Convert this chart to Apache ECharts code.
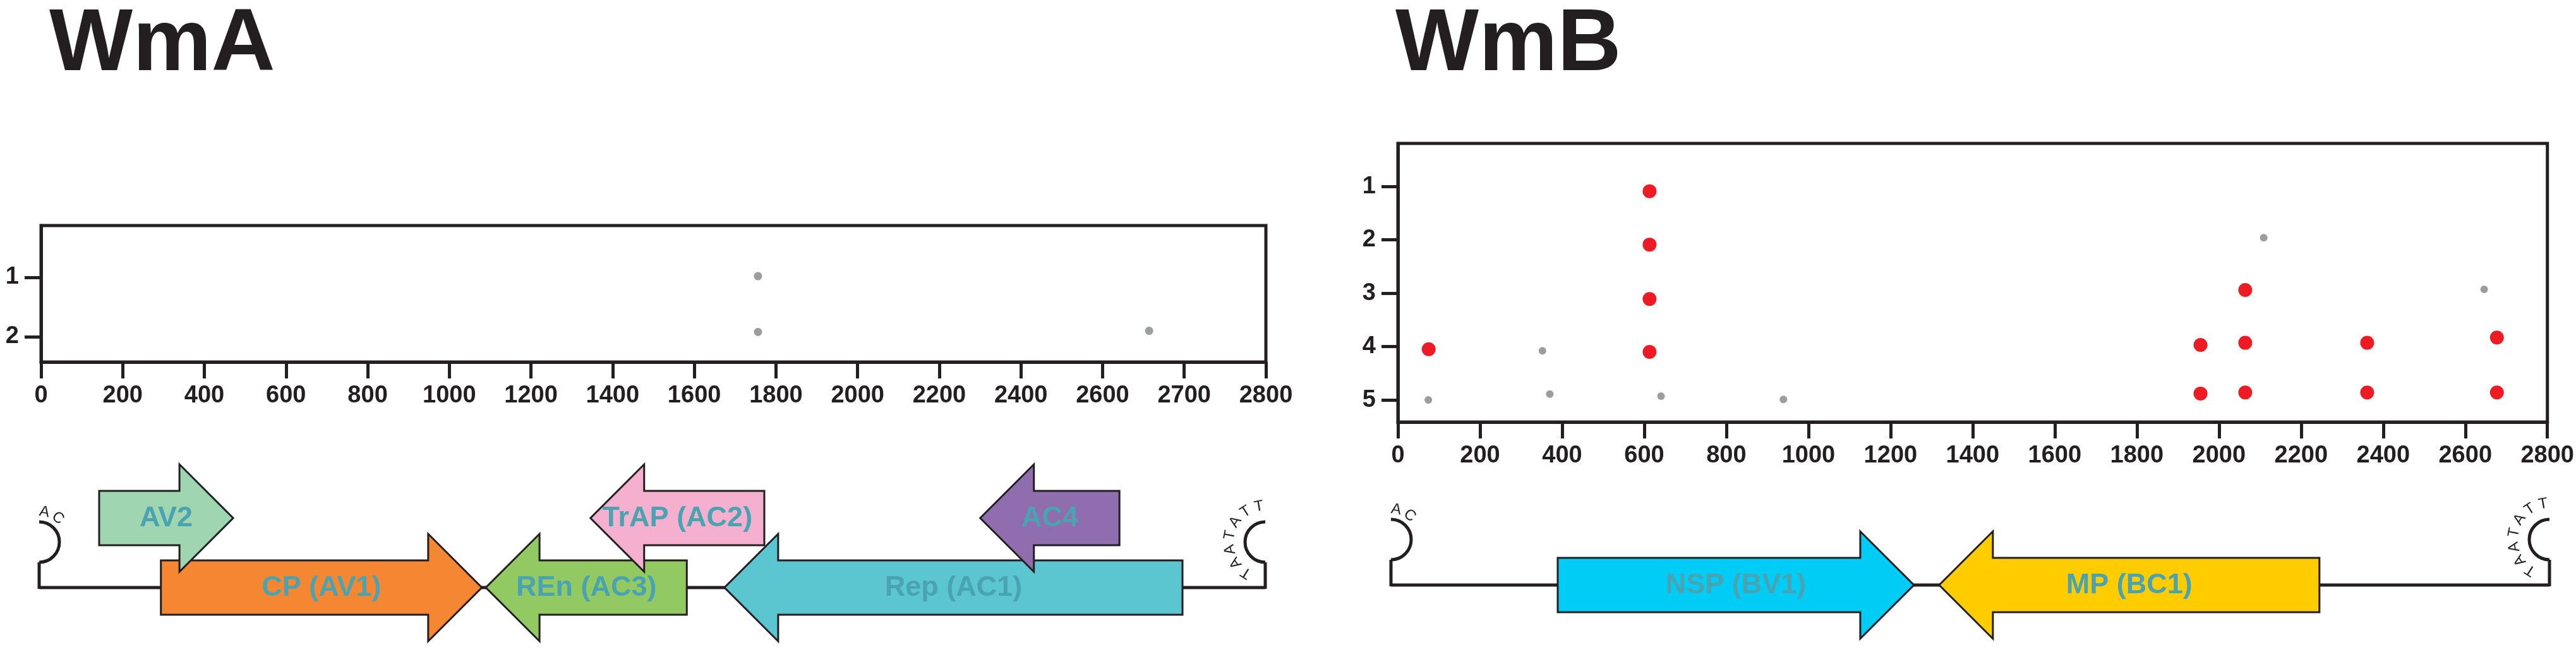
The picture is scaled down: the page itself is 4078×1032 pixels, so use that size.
<!DOCTYPE html>
<html>
<head>
<meta charset="utf-8">
<script src="https://cdn.jsdelivr.net/npm/echarts@6.0.0/dist/echarts.min.js"></script>
<style>
html, body { margin: 0; padding: 0; background: #fff; }
#main { width: 4078px; height: 1032px; }
</style>
</head>
<body>
<div id="main"></div>
<script>
// WmA dot plot (x axis ticks as printed in the figure)
var ticksA = [0, 200, 400, 600, 800, 1000, 1200, 1400, 1600, 1800, 2000, 2200, 2400, 2600, 2700, 2800];
var yTicksA = [1, 2];
var grayAx = [1756, 1756, 2657];
var grayAy = [0.98, 1.92, 1.9];

// WmB dot plot
var yTicksB = [1, 2, 3, 4, 5];
var redBx = [75, 613, 613, 613, 613, 2064, 1955, 2064, 2361, 2677, 1955, 2064, 2361, 2677];
var redBy = [4.05, 1.09, 2.09, 3.11, 4.1, 2.94, 3.97, 3.93, 3.93, 3.83, 4.88, 4.86, 4.86, 4.86];
var grayBx = [74, 352, 370, 641, 939, 2109, 2646];
var grayBy = [5.0, 4.08, 4.89, 4.93, 4.99, 1.96, 2.93];

// genome maps (nt), lane 0 = main line, lane 1 = upper row
var genomeA = [0, 2800];
var genesA = ['CP (AV1)', 'REn (AC3)', 'Rep (AC1)', 'AV2', 'TrAP (AC2)', 'AC4'];
var startA = [278, 1020, 1565, 137, 1259, 2149];
var endA = [1011, 1479, 2611, 443, 1656, 2467];
var strandA = [1, -1, -1, 1, -1, -1];
var laneA = [0, 0, 0, 1, 1, 1];

var genomeB = [0, 2800];
var genesB = ['NSP (BV1)', 'MP (BC1)'];
var startB = [403, 1325];
var endB = [1264, 2244];
var strandB = [1, -1];
var laneB = [0, 0];

var endSeq = ['AC', 'TAATATT'];

var geneColor = {
    'CP (AV1)': '#f58733',
    'REn (AC3)': '#93c963',
    'Rep (AC1)': '#5bc6d0',
    'AV2': '#9fd5b0',
    'TrAP (AC2)': '#f5b0d0',
    'AC4': '#8f6daf',
    'NSP (BV1)': '#00ccf6',
    'MP (BC1)': '#ffcc00'
};

var ink = '#231f20';
var font = 'Liberation Sans';

// position on the WmA axis (ticks are evenly spaced there)
function toIdxA(bp) {
    for (var i = 0; i < ticksA.length - 1; i++) {
        if (bp <= ticksA[i + 1]) {
            return i + (bp - ticksA[i]) / (ticksA[i + 1] - ticksA[i]);
        }
    }
    return ticksA.length - 1;
}

function plotX(grid, opts, fmt) {
    var ax = {
        type: 'value', gridIndex: grid,
        axisLine: { show: true, lineStyle: { color: ink, width: 5 } },
        axisTick: { show: true, length: 26, lineStyle: { color: ink, width: 5 } },
        axisLabel: { color: ink, fontSize: 38, fontWeight: 'bold', fontFamily: font, margin: 35, formatter: fmt },
        splitLine: { show: false }
    };
    return Object.assign(ax, opts);
}

function plotY(grid, ticks, min, max) {
    return {
        type: 'value', gridIndex: grid, inverse: true, min: min, max: max,
        axisLine: { show: true, lineStyle: { color: ink, width: 5 } },
        axisTick: { show: true, length: 26, customValues: ticks, lineStyle: { color: ink, width: 5 } },
        axisLabel: { customValues: ticks, color: ink, fontSize: 38, fontWeight: 'bold', fontFamily: font, margin: 35 },
        splitLine: { show: false }
    };
}

function geneSeries(grid, names, starts, ends, lanes, strands) {
    return {
        type: 'custom', xAxisIndex: grid, yAxisIndex: grid, z: 4,
        data: names.map(function (n, i) { return [starts[i], ends[i], lanes[i], strands[i]]; }),
        encode: { x: [0, 1], y: 2 },
        renderItem: function (params, api) {
            var s = api.coord([api.value(0), api.value(2)]);
            var e = api.coord([api.value(1), api.value(2)]);
            var y = s[1], bh = 43, hh = 85, H = 85;
            var pts;
            if (api.value(3) > 0) {
                var xh = e[0] - H;
                pts = [[s[0], y - bh], [xh, y - bh], [xh, y - hh], [e[0], y], [xh, y + hh], [xh, y + bh], [s[0], y + bh]];
            } else {
                var xh2 = s[0] + H;
                pts = [[e[0], y - bh], [xh2, y - bh], [xh2, y - hh], [s[0], y], [xh2, y + hh], [xh2, y + bh], [e[0], y + bh]];
            }
            var name = names[params.dataIndex];
            return {
                type: 'group',
                children: [
                    { type: 'polygon', shape: { points: pts },
                      style: { fill: geneColor[name], stroke: ink, lineWidth: 3, lineJoin: 'miter' } },
                    { type: 'text', x: (s[0] + e[0]) / 2, y: y + 1,
                      style: { text: name, fill: '#4aa3b0', fontSize: 45, fontWeight: 'bold', fontFamily: font,
                               align: 'center', verticalAlign: 'middle' } }
                ]
            };
        }
    };
}

function baseLine(grid, genome) {
    return {
        type: 'line', xAxisIndex: grid, yAxisIndex: grid, z: 2, symbol: 'none', silent: true,
        data: [[genome[0], 0], [genome[1], 0]],
        lineStyle: { color: ink, width: 5 }
    };
}

function endSeries(grid, genome) {
    return {
        type: 'custom', xAxisIndex: grid, yAxisIndex: grid, z: 3,
        data: genome.map(function (v) { return [v, 0]; }),
        renderItem: function (params, api) {
            var p = api.coord([api.value(0), api.value(1)]);
            var left = params.dataIndex === 0;
            var cx = p[0], cy = p[1] - 72, r = 32;
            var children = [
                { type: 'line', shape: { x1: cx, y1: p[1] + 2, x2: cx, y2: cy + r },
                  style: { stroke: ink, lineWidth: 5 } },
                { type: 'arc',
                  shape: { cx: cx, cy: cy, r: r,
                           startAngle: left ? -Math.PI / 2 : Math.PI / 2,
                           endAngle: left ? Math.PI / 2 : Math.PI * 1.5, clockwise: true },
                  style: { stroke: ink, lineWidth: 5, fill: null } }
            ];
            var seq = endSeq[params.dataIndex];
            var a0 = left ? -80 : 122, step = left ? 28 : 23, rr = left ? 48 : 57;
            for (var i = 0; i < seq.length; i++) {
                var ang = (a0 + i * step) * Math.PI / 180;
                children.push({
                    type: 'text',
                    x: cx + rr * Math.cos(ang), y: cy + rr * Math.sin(ang),
                    rotation: -(ang + Math.PI / 2),
                    style: { text: seq[i], fill: ink, fontSize: 24, fontFamily: font, align: 'center', verticalAlign: 'middle' }
                });
            }
            return { type: 'group', children: children };
        }
    };
}

var myChart = echarts.init(document.getElementById('main'));
myChart.setOption({
    animation: false,
    backgroundColor: '#ffffff',
    title: [
        { text: 'WmA', left: 78, top: 2, padding: 0,
          textStyle: { fontSize: 140, fontWeight: 'bold', fontFamily: font, color: ink } },
        { text: 'WmB', left: 2209, top: 2, padding: 0,
          textStyle: { fontSize: 140, fontWeight: 'bold', fontFamily: font, color: ink } }
    ],
    grid: [
        { left: 65, top: 357, width: 1939, height: 216, show: true, borderColor: ink, borderWidth: 5 },
        { left: 2213, top: 227, width: 1822, height: 441, show: true, borderColor: ink, borderWidth: 5 },
        { left: 62, top: 765, width: 1941, height: 220 },
        { left: 2202, top: 761, width: 1834, height: 220 }
    ],
    xAxis: [
        plotX(0, { min: 0, max: ticksA.length - 1, interval: 1 },
              function (v) { return String(ticksA[Math.round(v)]); }),
        plotX(1, { min: 0, max: 2800, interval: 200 },
              function (v) { return String(v); }),
        { type: 'value', gridIndex: 2, min: genomeA[0], max: genomeA[1], show: false },
        { type: 'value', gridIndex: 3, min: genomeB[0], max: genomeB[1], show: false }
    ],
    yAxis: [
        plotY(0, yTicksA, 0.128, 2.426),
        plotY(1, yTicksB, 0.195, 5.414),
        { type: 'value', gridIndex: 2, min: -0.5, max: 1.5, show: false },
        { type: 'value', gridIndex: 3, min: -0.5, max: 1.5, show: false }
    ],
    series: [
        {
            type: 'scatter', xAxisIndex: 0, yAxisIndex: 0, symbolSize: 13,
            itemStyle: { color: '#838487' },
            data: grayAx.map(function (v, i) { return [toIdxA(v), grayAy[i]]; })
        },
        {
            type: 'scatter', xAxisIndex: 1, yAxisIndex: 1, symbolSize: 12,
            itemStyle: { color: '#838487' },
            data: grayBx.map(function (v, i) { return [v, grayBy[i]]; })
        },
        {
            type: 'scatter', xAxisIndex: 1, yAxisIndex: 1, symbolSize: 22,
            itemStyle: { color: '#ed1c24', opacity: 1 },
            data: redBx.map(function (v, i) { return [v, redBy[i]]; })
        },
        baseLine(2, genomeA),
        endSeries(2, genomeA),
        geneSeries(2, genesA, startA, endA, laneA, strandA),
        baseLine(3, genomeB),
        endSeries(3, genomeB),
        geneSeries(3, genesB, startB, endB, laneB, strandB)
    ]
});
</script>
</body>
</html>
